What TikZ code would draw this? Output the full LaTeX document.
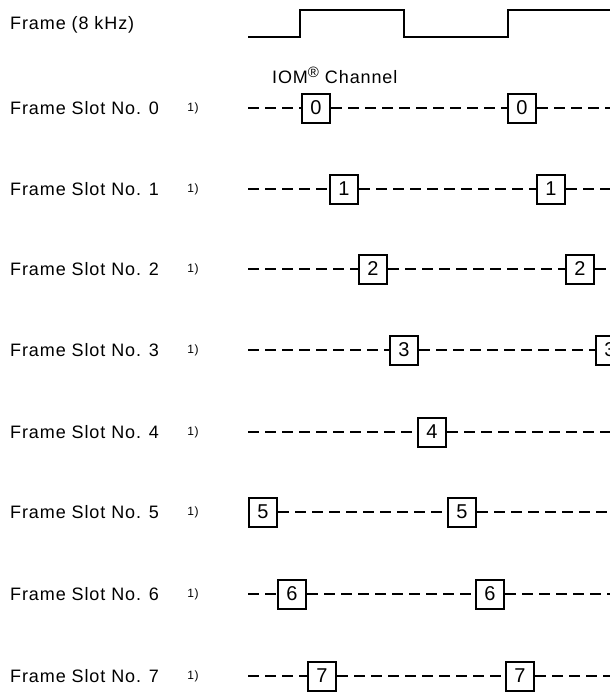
\documentclass[tikz,border=0pt]{standalone}
\usepackage{fontspec}
\setmainfont{Liberation Sans}[LetterSpace=5]
\usetikzlibrary{positioning}

\begin{document}
\begin{tikzpicture}[
    x=1pt, y=-1pt,
    every node/.style={font=\fontsize{18}{20}\selectfont},
    slotlabel/.style={anchor=west, inner sep=0pt},
    note/.style={font=\fontsize{12}{14}\selectfont, inner sep=0pt},
    slotbox/.style={
        draw, line width=2pt, minimum width=28pt, minimum height=29pt,
        inner sep=0pt, font=\fontsize{20}{20}\selectfont
    },
    dashline/.style={line width=2pt, dash pattern=on 11pt off 6pt},
    signal/.style={line width=2pt},
]
    \useasboundingbox (0,0) rectangle (610,694);
    \clip (0,0) rectangle (610,694);

    % frame signal
    \node[slotlabel] (frame) at (10,25) {Frame (8 kHz)};
    \draw[signal] (248,37) -| (300,10) -| (404,37) -| (508,10) -- (640,10);

    \node[slotlabel] (iom) at (272,75)
        {IOM\raisebox{6pt}{\fontsize{15}{15}\selectfont ®} Channel};

    % frame slots with two channels
    \foreach \k/\y/\xa/\xb in {0/108/316/522, 1/189/344/551, 2/269/373/580,
                               3/350/404/610, 5/512/263/462, 6/594/292/490,
                               7/676/322/520} {
        \node[slotlabel] (l\k) at (10,\y) {Frame Slot No. \k};
        \node[note] (n\k) at (193,\y) {1)};
        \coordinate (s\k) at (248,\y);
        \coordinate (e\k) at (660,\y);
        \node[slotbox] (a\k) at (\xa,\y) {\k};
        \node[slotbox] (b\k) at (\xb,\y) {\k};
        \draw[dashline] (s\k) -- (a\k) (a\k) -- (b\k) (b\k) -- (e\k);
    }

    % frame slot 4
    \node[slotlabel] (l4) at (10,432) {Frame Slot No. 4};
    \node[note] (n4) at (193,432) {1)};
    \coordinate (s4) at (248,432);
    \coordinate (e4) at (660,432);
    \node[slotbox] (a4) at (432,432) {4};
    \draw[dashline] (s4) -- (a4) (a4) -- (e4);
\end{tikzpicture}
\end{document}
